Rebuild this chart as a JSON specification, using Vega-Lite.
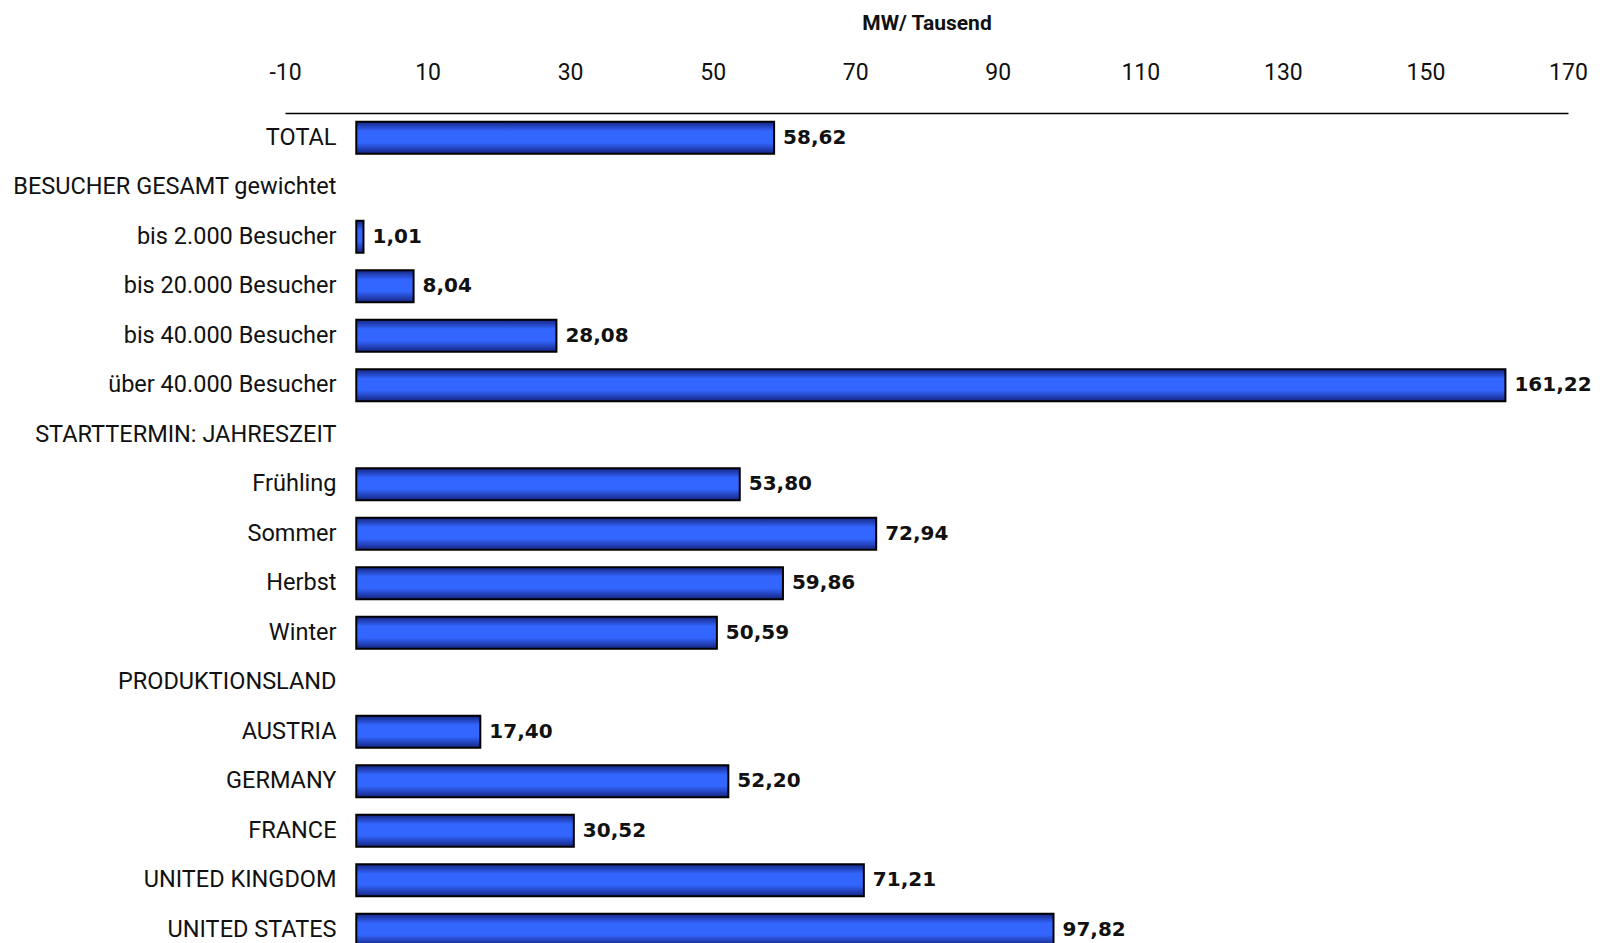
{
  "$schema": "https://vega.github.io/schema/vega-lite/v6.json",
  "autosize": "none",
  "width": 1283,
  "height": 841.5,
  "padding": {"left": 285, "top": 113, "right": 32, "bottom": 0},
  "background": "white",
  "config": {"view": {"stroke": null}},
  "data": {
    "values": [
      {"cat": "TOTAL", "v": 58.62, "label": "58,62"},
      {"cat": "BESUCHER GESAMT gewichtet", "v": null, "label": ""},
      {"cat": "bis 2.000 Besucher", "v": 1.01, "label": "1,01"},
      {"cat": "bis 20.000 Besucher", "v": 8.04, "label": "8,04"},
      {"cat": "bis 40.000 Besucher", "v": 28.08, "label": "28,08"},
      {"cat": "über 40.000 Besucher", "v": 161.22, "label": "161,22"},
      {"cat": "STARTTERMIN: JAHRESZEIT", "v": null, "label": ""},
      {"cat": "Frühling", "v": 53.80, "label": "53,80"},
      {"cat": "Sommer", "v": 72.94, "label": "72,94"},
      {"cat": "Herbst", "v": 59.86, "label": "59,86"},
      {"cat": "Winter", "v": 50.59, "label": "50,59"},
      {"cat": "PRODUKTIONSLAND", "v": null, "label": ""},
      {"cat": "AUSTRIA", "v": 17.40, "label": "17,40"},
      {"cat": "GERMANY", "v": 52.20, "label": "52,20"},
      {"cat": "FRANCE", "v": 30.52, "label": "30,52"},
      {"cat": "UNITED KINGDOM", "v": 71.21, "label": "71,21"},
      {"cat": "UNITED STATES", "v": 97.82, "label": "97,82"}
    ]
  },
  "encoding": {
    "y": {
      "field": "cat",
      "type": "nominal",
      "sort": null,
      "scale": {
        "domain": ["TOTAL", "BESUCHER GESAMT gewichtet", "bis 2.000 Besucher", "bis 20.000 Besucher", "bis 40.000 Besucher", "über 40.000 Besucher", "STARTTERMIN: JAHRESZEIT", "Frühling", "Sommer", "Herbst", "Winter", "PRODUKTIONSLAND", "AUSTRIA", "GERMANY", "FRANCE", "UNITED KINGDOM", "UNITED STATES"],
        "paddingInner": 0.35,
        "paddingOuter": 0.175
      },
      "axis": {
        "title": null,
        "domain": false,
        "ticks": false,
        "labelPadding": -51,
        "labelFont": "Roboto",
        "labelFontSize": 23.5,
        "labelColor": "#111111",
        "labelLimit": 600
      }
    },
    "x": {
      "field": "v",
      "type": "quantitative",
      "scale": {"domain": [-10, 170], "nice": false, "zero": false},
      "axis": {
        "orient": "top",
        "values": [-10, 10, 30, 50, 70, 90, 110, 130, 150, 170],
        "labelExpr": "replace(datum.label, '−', '-')",
        "grid": false,
        "ticks": false,
        "domain": true,
        "domainColor": "#000000",
        "domainWidth": 1.5,
        "labelFont": "Roboto",
        "labelFontSize": 23,
        "labelColor": "#111111",
        "labelPadding": 29,
        "labelFlush": false,
        "title": "MW/ Tausend",
        "titleFont": "Roboto",
        "titleFontSize": 21,
        "titleFontWeight": "bold",
        "titleColor": "#111111",
        "titlePadding": 28
      }
    }
  },
  "layer": [
    {
      "mark": {
        "type": "bar",
        "stroke": "#000000",
        "strokeWidth": 2,
        "fill": {
          "gradient": "linear",
          "x1": 0, "y1": 0, "x2": 0, "y2": 1,
          "stops": [
            {"offset": 0, "color": "#142480"},
            {"offset": 0.3, "color": "#3366ff"},
            {"offset": 0.65, "color": "#3366ff"},
            {"offset": 1, "color": "#142480"}
          ]
        }
      },
      "encoding": {"x2": {"datum": 0}}
    },
    {
      "mark": {
        "type": "text",
        "align": "left",
        "baseline": "middle",
        "dx": 9,
        "font": "DejaVu Sans",
        "fontSize": 20,
        "fontWeight": "bold",
        "color": "#111111"
      },
      "encoding": {"text": {"field": "label"}}
    }
  ]
}
